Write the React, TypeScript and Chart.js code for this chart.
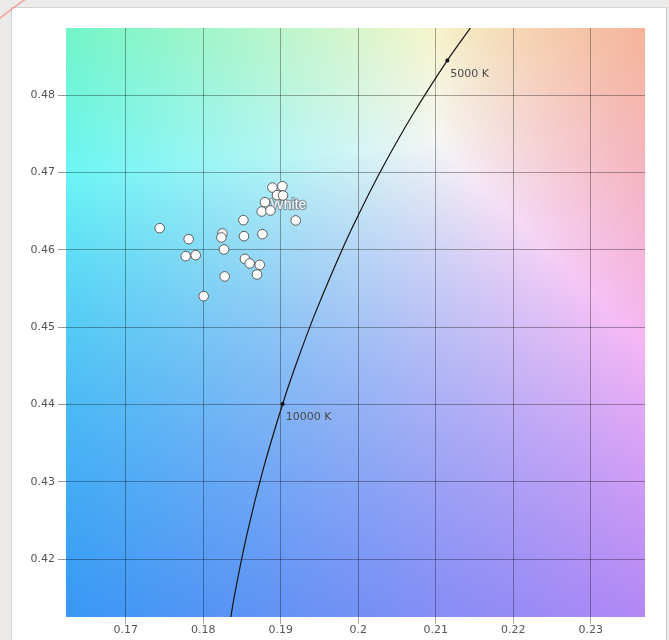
import { useEffect, useRef } from "react";
import { Chart, registerables } from "chart.js";

Chart.register(...registerables);

// Axis ticks (CIE 1976 u' / v')
const uTicks = [0.17, 0.18, 0.19, 0.2, 0.21, 0.22, 0.23];
const vTicks = [0.42, 0.43, 0.44, 0.45, 0.46, 0.47, 0.48];
const uMin = 0.1623;
const uMax = 0.237;
const vMin = 0.4125;
const vMax = 0.4887;

// Measured white samples (u', v')
const sampleU = [
  0.17439, 0.17813, 0.17774, 0.17903, 0.18006, 0.18248, 0.18235, 0.18268,
  0.18277, 0.18519, 0.18526, 0.18539, 0.186, 0.18729, 0.18694, 0.18764,
  0.18755, 0.18797, 0.18867, 0.18893, 0.19022, 0.18952, 0.1903, 0.19194,
];
const sampleV = [
  0.4628, 0.46138, 0.45918, 0.45931, 0.45401, 0.46212, 0.4616, 0.46005,
  0.45656, 0.46384, 0.46177, 0.45883, 0.45824, 0.45806, 0.45681, 0.46203,
  0.46496, 0.46616, 0.46509, 0.46806, 0.46823, 0.46707, 0.46703, 0.4638,
];
const groupName = "White";
const groupNameU = 0.191;
const groupNameV = 0.4658;

// Planckian locus (K, u', v')
const locusT = [4700, 5000, 5500, 6000, 6500, 7000, 8000, 9000, 10000, 12000, 15000, 20000, 25000];
const locusU = [0.21484, 0.2115, 0.20696, 0.20337, 0.2005, 0.19815, 0.19461, 0.1921, 0.19025, 0.18778, 0.18568, 0.18398, 0.18318];
const locusV = [0.48922, 0.48451, 0.47738, 0.47107, 0.46549, 0.46054, 0.4522, 0.44552, 0.44006, 0.43175, 0.42334, 0.41496, 0.40996];

// Labelled colour temperatures on the locus
const cctMarks = [5000, 10000];
const cctLabels = ["5000 K", "10000 K"];

const tickFont = { family: '"DejaVu Sans", sans-serif', size: 11 };
const tickColor = "#555";

// u'v' -> display colour, equal-energy white rendered as white
function uvToRgb(u: number, v: number): [number, number, number] {
  const d = 6 * u - 16 * v + 12;
  const x = (9 * u) / d;
  const y = (4 * v) / d;
  const X = x / y;
  const Y = 1;
  const Z = (1 - x - y) / y;
  let r = 2.3646 * X - 0.8965 * Y - 0.4681 * Z;
  let g = -0.5152 * X + 1.4264 * Y + 0.0888 * Z;
  let b = 0.0052 * X - 0.0144 * Y + 1.0092 * Z;
  r = Math.max(r, 0);
  g = Math.max(g, 0);
  b = Math.max(b, 0);
  const m = Math.max(r, g, b) || 1;
  const f = (c: number) => Math.round(255 * Math.min(1, (c / m) * 0.86 + 0.1));
  return [f(r), f(g), f(b)];
}

const chromaticityFill = {
  id: "chromaticityFill",
  beforeDraw(chart: any) {
    const { ctx, chartArea: a, scales } = chart;
    const w = Math.round(a.right - a.left);
    const h = Math.round(a.bottom - a.top);
    const off = document.createElement("canvas");
    off.width = w;
    off.height = h;
    const octx = off.getContext("2d")!;
    const img = octx.createImageData(w, h);
    for (let j = 0; j < h; j++) {
      const v = scales.y.getValueForPixel(a.top + j + 0.5);
      for (let i = 0; i < w; i++) {
        const u = scales.x.getValueForPixel(a.left + i + 0.5);
        const [r, g, b] = uvToRgb(u, v);
        const k = (j * w + i) * 4;
        img.data[k] = r;
        img.data[k + 1] = g;
        img.data[k + 2] = b;
        img.data[k + 3] = 255;
      }
    }
    octx.putImageData(img, 0, 0);
    ctx.save();
    ctx.drawImage(off, a.left, a.top);
    ctx.restore();
  },
};

const groupNamePlugin = {
  id: "groupName",
  beforeDatasetsDraw(chart: any) {
    const { ctx, scales } = chart;
    const px = scales.x.getPixelForValue(groupNameU);
    const py = scales.y.getPixelForValue(groupNameV);
    ctx.save();
    ctx.font = '14px "Liberation Sans", Arial, sans-serif';
    ctx.textAlign = "center";
    ctx.textBaseline = "middle";
    ctx.lineJoin = "round";
    ctx.lineWidth = 2.5;
    ctx.strokeStyle = "rgba(110,110,110,0.55)";
    ctx.strokeText(groupName, px, py);
    ctx.fillStyle = "rgba(255,255,255,0.92)";
    ctx.fillText(groupName, px, py);
    ctx.restore();
  },
};

const cctLabelPlugin = {
  id: "cctLabels",
  afterDatasetsDraw(chart: any) {
    const { ctx, scales } = chart;
    ctx.save();
    ctx.font = '11px "DejaVu Sans", sans-serif';
    ctx.fillStyle = "#4a4a4a";
    ctx.textAlign = "left";
    ctx.textBaseline = "middle";
    cctMarks.forEach((t, i) => {
      const idx = locusT.indexOf(t);
      const px = scales.x.getPixelForValue(locusU[idx]);
      const py = scales.y.getPixelForValue(locusV[idx]);
      ctx.fillText(cctLabels[i], px + 3, py + 13.5);
    });
    ctx.restore();
  },
};

export default function App() {
  const ref = useRef<HTMLCanvasElement>(null);

  useEffect(() => {
    const canvas = ref.current!;
    const fmt = (v: number) => String(Number(Number(v).toFixed(2)));
    const chart = new Chart(canvas, {
      type: "scatter",
      data: {
        datasets: [
          {
            label: "Planckian locus",
            data: locusT.map((_, i) => ({ x: locusU[i], y: locusV[i] })),
            showLine: true,
            pointRadius: 0,
            borderColor: "#151515",
            borderWidth: 1.2,
            tension: 0.3,
          },
          {
            label: "CCT",
            data: cctMarks.map((t) => {
              const idx = locusT.indexOf(t);
              return { x: locusU[idx], y: locusV[idx] };
            }),
            pointRadius: 2,
            backgroundColor: "#000",
            borderWidth: 0,
          },
          {
            label: groupName,
            data: sampleU.map((u, i) => ({ x: u, y: sampleV[i] })),
            pointRadius: 4.8,
            backgroundColor: "#ffffff",
            borderColor: "#5a5a5a",
            borderWidth: 1,
          },
        ],
      },
      options: {
        animation: false,
        responsive: false,
        devicePixelRatio: 1,
        layout: { padding: { left: 0, top: 28, right: 24, bottom: 0 } },
        plugins: { legend: { display: false }, tooltip: { enabled: false } },
        scales: {
          x: {
            type: "linear",
            min: uMin,
            max: uMax,
            afterBuildTicks: (s: any) => {
              s.ticks = uTicks.map((v) => ({ value: v }));
            },
            afterFit: (s: any) => {
              s.height = 23;
            },
            ticks: {
              callback: (v: any) => fmt(v),
              font: tickFont,
              color: tickColor,
              padding: 0,
              maxRotation: 0,
              autoSkip: false,
            },
            grid: {
              color: "rgba(0,0,0,0.33)",
              tickColor: "rgba(0,0,0,0.33)",
              tickLength: 7,
              lineWidth: 1,
            },
            border: { display: false },
          },
          y: {
            type: "linear",
            min: vMin,
            max: vMax,
            afterBuildTicks: (s: any) => {
              s.ticks = vTicks.map((v) => ({ value: v }));
            },
            afterFit: (s: any) => {
              s.width = 66;
            },
            ticks: {
              callback: (v: any) => fmt(v),
              font: tickFont,
              color: tickColor,
              padding: 3,
              autoSkip: false,
            },
            grid: {
              color: "rgba(0,0,0,0.33)",
              tickColor: "#9a9a9a",
              tickLength: 8,
              lineWidth: 1,
            },
            border: { display: false },
          },
        },
      },
      plugins: [chromaticityFill, groupNamePlugin, cctLabelPlugin],
    } as any);
    return () => chart.destroy();
  }, []);

  return (
    <div style={{ position: "fixed", inset: 0, background: "#ecebe9", overflow: "hidden" }}>
      <div
        style={{
          position: "absolute",
          left: 11,
          top: 7,
          width: 656,
          height: 640,
          background: "#fff",
          borderTop: "1px solid #d4d4d4",
          borderLeft: "1px solid #d4d4d4",
          borderRight: "1px solid #c8c8c8",
          boxSizing: "border-box",
        }}
      />
      <div
        style={{
          position: "absolute",
          left: -4,
          top: 8,
          width: 32,
          height: 2,
          background: "rgba(238,120,120,0.5)",
          transform: "rotate(-37deg)",
        }}
      />
      <canvas
        ref={ref}
        width={669}
        height={640}
        style={{ position: "absolute", left: 0, top: 0, width: 669, height: 640 }}
      />
    </div>
  );
}
